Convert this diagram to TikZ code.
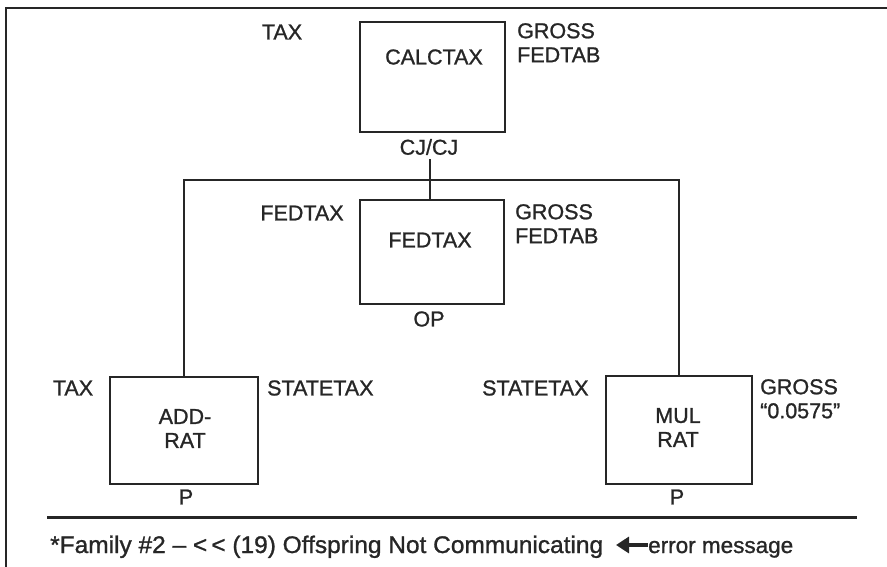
\documentclass[tikz,border=0pt]{standalone}
\usepackage{fontspec}
\usepackage{graphicx}
\setmainfont{Liberation Sans}
\newfontfamily\labfont[FakeBold=1.1,Ligatures=TeX]{Liberation Sans}
\usetikzlibrary{arrows.meta}
\definecolor{ink}{HTML}{262626}
\tikzset{
  px/.style={x=1pt,y=-1pt},
  lab/.style={inner sep=0pt, text=ink, font=\labfont\fontsize{21.5}{25}\selectfont},
  labl/.style={lab, anchor=west, align=left},
  boxnode/.style={draw=ink, line width=1.4pt, inner sep=0pt},
  conn/.style={draw=ink, line width=1.4pt},
  footlab/.style={inner sep=0pt, text=ink, font=\labfont\fontsize{24}{28}\selectfont},
}
\begin{document}
\begin{tikzpicture}[px]
\useasboundingbox (0,0) rectangle (887,567);
% outer frame
\coordinate (fr1) at (6,567);
\coordinate (fr2) at (6,8);
\coordinate (fr3) at (887,8);
\draw[ink, line width=2pt] (fr1) -- (fr2) -- (fr3);

% boxes
\node[boxnode, minimum width=145pt, minimum height=110pt] (calc) at (432.5,77) {};
\node[boxnode, minimum width=144pt, minimum height=104pt] (fed) at (432,252) {};
\node[boxnode, minimum width=148pt, minimum height=107pt] (add) at (184,430.5) {};
\node[boxnode, minimum width=146pt, minimum height=108pt] (mul) at (679,430) {};

% box texts
\node[lab] (calct) at (434,57) {CALCTAX};
\node[lab] (fedt) at (430,240) {FEDTAX};
\node[lab, align=center] (addt) at (185,428.5) {ADD-\\[-1pt]RAT};
\node[lab, align=center] (mult) at (678,427.5) {MUL\\[-1pt]RAT};

% side labels
\node[lab] (tax1) at (282,32) {TAX};
\node[labl, anchor=north west] (gf1) at (517,23) {GROSS\\[-1pt]FEDTAB};
\node[lab] (cjcj) at (429,147) {CJ/CJ};
\node[lab] (fedtaxl) at (302,213) {FEDTAX};
\node[labl, anchor=north west] (gf2) at (515,204) {GROSS\\[-1pt]FEDTAB};
\node[lab] (op) at (429,319) {OP};
\node[lab] (tax2) at (73,388) {TAX};
\node[labl] (st1) at (267,388) {STATETAX};
\node[labl] (st2) at (482,388) {STATETAX};
\node[labl, anchor=north west] (gq) at (760,379) {GROSS\\[-1pt]“0.0575”};
\node[lab] (p1) at (186,497) {P};
\node[lab] (p2) at (677,497) {P};

% connectors
\coordinate (bar) at (430,180);
\draw[conn] (bar |- cjcj.south) ++(0,4) -- (bar |- fed.north);
\draw[conn] (add.north) |- (bar) -| (mul.north);

% separator
\coordinate (s1) at (47,517);
\coordinate (s2) at (857,517);
\draw[ink, line width=3pt] (s1) -- (s2);

% footnote
\node[footlab, anchor=base west] (foot) at (50,553) {\resizebox{553pt}{\height}{*Family \#2 – <\,< (19) Offspring Not Communicating}};
\coordinate (ar1) at (648,545);
\coordinate (ar2) at (616,545);
\draw[ink, line width=4pt, -{Triangle[length=13pt,width=16pt]}] (ar1) -- (ar2);
\node[footlab, anchor=base west, font=\labfont\fontsize{22.5}{26}\selectfont] (err) at (648,553) {error message};
\end{tikzpicture}
\end{document}
